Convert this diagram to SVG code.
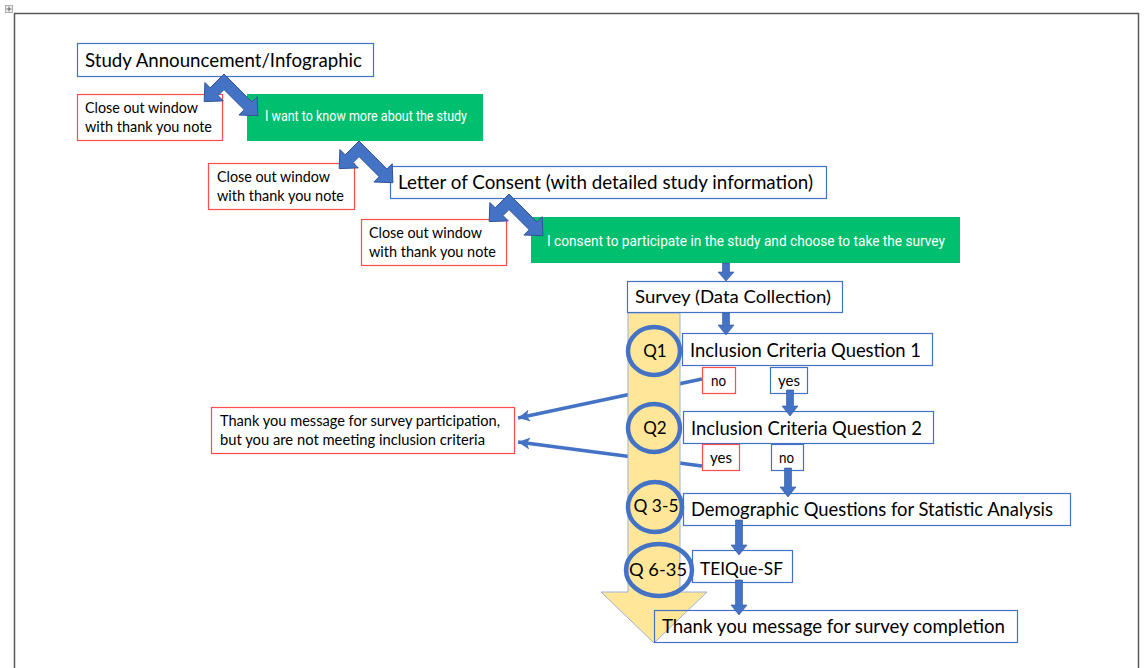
<svg xmlns="http://www.w3.org/2000/svg" width="1144" height="668" viewBox="0 0 1144 668">
<style>
text{font-family:Lato,"Open Sans","Liberation Sans",sans-serif;fill:#000}
.bb{fill:#fff;stroke:#4472C4;stroke-width:1.2}
.rb{fill:#fff;stroke:#FF4D4D;stroke-width:1.2}
.gb{fill:#00BF6F;stroke:none}
.gt{font-family:Roboto,"Liberation Sans",sans-serif;fill:#fff;font-size:14px;text-anchor:middle}
.chev{fill:#4472C4;stroke:#2F5597;stroke-width:1}
.dn{fill:#4472C4;stroke:#2F5597;stroke-width:0.6}
.ln{stroke:#4472C4;stroke-width:3.5;fill:none}
.q{fill:none;stroke:#4472C4;stroke-width:4.5}
.qt{font-size:17px;text-anchor:middle}
</style>
<defs>
<marker id="ah" markerUnits="userSpaceOnUse" markerWidth="14" markerHeight="12" refX="12" refY="6" orient="auto">
<path d="M0,0 L12,6 L0,12 L3,6 Z" fill="#4472C4"/>
</marker>
<polygon id="chevShape" points="0,0 27.9,28 33.2,22.7 33.9,41.7 14.9,41 20.2,35.7 0,15.6 -6,21.6 -0.7,26.9 -19.8,27.6 -19.1,8.5 -13.8,13.8"/>
</defs>
<rect width="1144" height="668" fill="#fff"/>
<g id="frame">
<path d="M14.5,668 V13.5 H1138.5 V668" fill="none" stroke="#5a5a5a" stroke-width="1.5"/>
<rect x="5.5" y="5.5" width="7" height="7" fill="#f0f0f0" stroke="#999" stroke-width="0.8"/>
<path d="M9,6.5 V11.5 M6.5,9 H11.5" stroke="#444" stroke-width="0.8"/>
</g>
<g id="connectors-back">
<line class="ln" x1="702" y1="379" x2="518" y2="418" marker-end="url(#ah)"/>
<line class="ln" x1="702" y1="466" x2="518" y2="442" marker-end="url(#ah)"/>
</g>
<g id="survey-arrow">
<path d="M628,313 H680 V592 H707 L654,643 L601,592 H628 Z" fill="#FFE699" stroke="#9DB1D8" stroke-width="1"/>
</g>
<g id="study">
<rect class="bb" x="77.5" y="43.5" width="296" height="33"/>
<text x="85" y="67" font-size="20" textLength="277" lengthAdjust="spacingAndGlyphs">Study Announcement/Infographic</text>
</g>
<g id="close1">
<rect class="rb" x="77.5" y="94.5" width="145" height="46"/>
<text x="85" y="113" font-size="15" textLength="113" lengthAdjust="spacingAndGlyphs">Close out window</text>
<text x="85" y="132" font-size="15" textLength="127" lengthAdjust="spacingAndGlyphs">with thank you note</text>
</g>
<g id="want">
<rect class="gb" x="247" y="94" width="236" height="47"/>
<text class="gt" x="366" y="121" textLength="202" lengthAdjust="spacingAndGlyphs">I want to know more about the study</text>
</g>
<g id="close2">
<rect class="rb" x="208.5" y="163.5" width="146" height="46"/>
<text x="217" y="182" font-size="15" textLength="113" lengthAdjust="spacingAndGlyphs">Close out window</text>
<text x="217" y="201" font-size="15" textLength="127" lengthAdjust="spacingAndGlyphs">with thank you note</text>
</g>
<g id="letter">
<rect class="bb" x="390.5" y="166.5" width="436" height="32"/>
<text x="398" y="189" font-size="19" textLength="415" lengthAdjust="spacingAndGlyphs">Letter of Consent (with detailed study information)</text>
</g>
<g id="close3">
<rect class="rb" x="361.5" y="219.5" width="145" height="46"/>
<text x="369" y="238" font-size="15" textLength="113" lengthAdjust="spacingAndGlyphs">Close out window</text>
<text x="369" y="257" font-size="15" textLength="127" lengthAdjust="spacingAndGlyphs">with thank you note</text>
</g>
<g id="consent">
<rect class="gb" x="531" y="217" width="429" height="46"/>
<text class="gt" x="746" y="246" textLength="398" lengthAdjust="spacingAndGlyphs">I consent to participate in the study and choose to take the survey</text>
</g>
<g id="survey">
<rect class="bb" x="627.5" y="281.5" width="215" height="31"/>
<text x="635" y="303" font-size="18" textLength="196" lengthAdjust="spacingAndGlyphs">Survey (Data Collection)</text>
</g>
<g id="icq1">
<rect class="bb" x="682.5" y="333.5" width="250" height="32"/>
<text x="690" y="357" font-size="19" textLength="231" lengthAdjust="spacingAndGlyphs">Inclusion Criteria Question 1</text>
</g>
<g id="no1">
<rect class="rb" x="702.5" y="367.5" width="33" height="26"/>
<text x="711" y="386" font-size="15" textLength="15" lengthAdjust="spacingAndGlyphs">no</text>
</g>
<g id="yes1">
<rect class="bb" x="770.5" y="367.5" width="37" height="26"/>
<text x="778" y="386" font-size="15" textLength="22" lengthAdjust="spacingAndGlyphs">yes</text>
</g>
<g id="icq2">
<rect class="bb" x="683.5" y="411.5" width="250" height="32"/>
<text x="691" y="435" font-size="19" textLength="231" lengthAdjust="spacingAndGlyphs">Inclusion Criteria Question 2</text>
</g>
<g id="yes2">
<rect class="rb" x="702.5" y="444.5" width="37" height="26"/>
<text x="710" y="463" font-size="15" textLength="22" lengthAdjust="spacingAndGlyphs">yes</text>
</g>
<g id="no2">
<rect class="bb" x="771.5" y="444.5" width="32" height="26"/>
<text x="779" y="463" font-size="15" textLength="15" lengthAdjust="spacingAndGlyphs">no</text>
</g>
<g id="demo">
<rect class="bb" x="683.5" y="493.5" width="387" height="32"/>
<text x="691" y="516" font-size="19" textLength="362" lengthAdjust="spacingAndGlyphs">Demographic Questions for Statistic Analysis</text>
</g>
<g id="teique">
<rect class="bb" x="692.5" y="550.5" width="100" height="32"/>
<text x="700" y="575" font-size="18" textLength="83" lengthAdjust="spacingAndGlyphs">TEIQue-SF</text>
</g>
<g id="complete">
<rect x="654.5" y="610.5" width="363" height="32" fill="none" stroke="#4472C4" stroke-width="1.2"/>
<text x="662" y="633" font-size="19" textLength="343" lengthAdjust="spacingAndGlyphs">Thank you message for survey completion</text>
</g>
<g id="notmeet">
<rect class="rb" x="211.5" y="407.5" width="303" height="46"/>
<text x="220" y="426" font-size="14.5" textLength="280" lengthAdjust="spacingAndGlyphs">Thank you message for survey participation,</text>
<text x="220" y="445" font-size="14.5" textLength="265" lengthAdjust="spacingAndGlyphs">but you are not meeting inclusion criteria</text>
</g>
<g id="q1">
<ellipse class="q" cx="654" cy="351" rx="26" ry="24"/>
<text class="qt" x="655" y="357">Q1</text>
</g>
<g id="q2">
<ellipse class="q" cx="654" cy="428" rx="26" ry="24"/>
<text class="qt" x="655" y="434">Q2</text>
</g>
<g id="q35">
<ellipse class="q" cx="655" cy="507" rx="27" ry="25"/>
<text class="qt" x="656" y="512" textLength="45" lengthAdjust="spacingAndGlyphs">Q 3-5</text>
</g>
<g id="q635">
<ellipse class="q" cx="659" cy="570" rx="33" ry="26"/>
<text class="qt" x="658" y="576" textLength="58" lengthAdjust="spacingAndGlyphs">Q 6-35</text>
</g>
<g id="connectors">
<use href="#chevShape" class="chev" transform="translate(224,74)"/>
<use href="#chevShape" class="chev" transform="translate(359,141)"/>
<use href="#chevShape" class="chev" transform="translate(509,194)"/>
<path class="dn" d="M722.5,263 H729.5 V272 H734 L726,281 L718,272 H722.5 Z"/>
<path class="dn" d="M722.5,313 H729.5 V325 H734 L726,335 L718,325 H722.5 Z"/>
<path class="dn" d="M786.5,390 H793.5 V406 H798 L790,416 L782,406 H786.5 Z"/>
<path class="dn" d="M784.5,468 H791.5 V487 H796 L788,497 L780,487 H784.5 Z"/>
<path class="dn" d="M735.5,520 H742.5 V545 H747 L739,555 L731,545 H735.5 Z"/>
<path class="dn" d="M735.5,580 H742.5 V605 H747 L739,615 L731,605 H735.5 Z"/>
</g>
</svg>
